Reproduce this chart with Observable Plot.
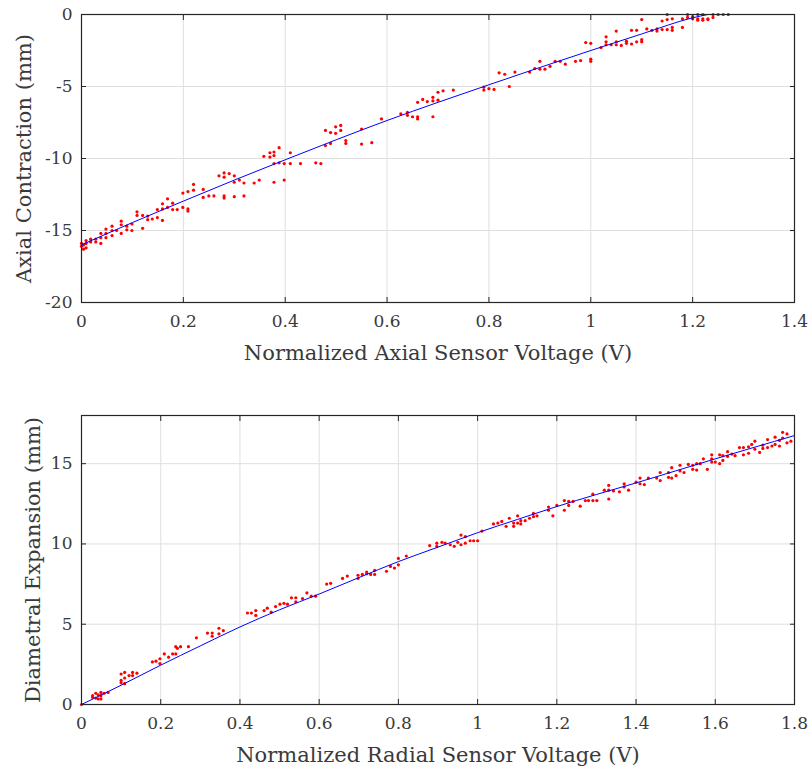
<!DOCTYPE html>
<html><head><meta charset="utf-8">
<script src="https://cdn.jsdelivr.net/npm/d3@7"></script>
<script src="https://cdn.jsdelivr.net/npm/@observablehq/plot@0.6"></script>
<style>body{margin:0;background:#fff} svg{display:block}</style>
</head><body><div id="c"></div><script>
// ---- Axial (top) ----
const axialPoints = [
[0,-15.9],[0,-16.1],[0.004,-16.0],[0.004,-16.3],[0.009,-15.7],[0.009,-15.9],[0.009,-16.2],
[0.018,-15.6],[0.018,-15.8],[0.028,-15.6],[0.028,-15.8],
[0.038,-15.2],[0.038,-15.5],[0.038,-15.9],
[0.048,-14.9],[0.048,-15.2],[0.048,-15.5],
[0.06,-14.7],[0.06,-15.0],[0.06,-15.35],[0.069,-15.0],
[0.078,-14.35],[0.078,-14.6],[0.078,-15.2],
[0.089,-14.7],[0.089,-14.95],[0.099,-14.55],[0.099,-15.0],
[0.109,-13.7],[0.109,-13.95],[0.12,-13.95],[0.12,-14.85],
[0.13,-14.0],[0.13,-14.25],[0.139,-14.2],
[0.149,-13.55],[0.149,-14.1],
[0.159,-13.15],[0.159,-13.5],[0.159,-14.3],
[0.169,-12.8],[0.169,-13.4],[0.179,-13.1],[0.179,-13.55],[0.188,-13.55],
[0.199,-12.4],[0.199,-13.4],[0.209,-12.3],[0.209,-13.5],[0.209,-13.65],
[0.22,-11.8],[0.22,-12.2],[0.239,-12.15],[0.239,-12.7],
[0.25,-12.6],[0.26,-12.6],[0.27,-11.2],
[0.28,-11.0],[0.28,-11.3],[0.28,-12.6],[0.28,-12.75],[0.29,-11.05],
[0.3,-11.2],[0.3,-11.65],[0.3,-12.65],[0.31,-11.5],
[0.319,-11.7],[0.319,-12.6],[0.339,-11.7],[0.349,-11.5],
[0.358,-9.85],[0.37,-9.6],[0.37,-9.9],
[0.378,-9.55],[0.378,-9.8],[0.378,-10.35],[0.378,-11.65],
[0.388,-9.25],[0.388,-10.3],[0.398,-10.35],[0.398,-11.5],
[0.41,-9.6],[0.41,-10.35],[0.43,-10.35],[0.46,-10.3],[0.47,-10.35],
[0.479,-8.05],[0.479,-9.1],[0.489,-8.2],[0.489,-8.95],
[0.499,-7.8],[0.499,-8.25],[0.509,-7.7],[0.509,-8.05],
[0.519,-8.75],[0.519,-8.95],[0.55,-7.95],[0.55,-9.0],
[0.57,-8.9],[0.589,-7.25],
[0.627,-6.9],[0.64,-6.8],[0.64,-7.0],[0.65,-7.1],
[0.66,-6.1],[0.66,-7.1],[0.66,-7.25],[0.67,-5.9],[0.679,-6.05],
[0.69,-5.75],[0.69,-6.0],[0.69,-7.1],[0.7,-5.4],[0.7,-5.95],
[0.71,-5.3],[0.73,-5.25],
[0.79,-5.05],[0.79,-5.25],[0.8,-5.15],[0.81,-5.2],
[0.82,-4.05],[0.831,-4.15],[0.84,-5.0],[0.851,-4.0],
[0.88,-4.0],[0.89,-3.75],[0.9,-3.25],[0.9,-3.8],[0.91,-3.8],[0.92,-3.6],
[0.93,-3.25],[0.94,-3.25],[0.95,-3.45],[0.97,-3.25],[0.98,-3.2],
[0.99,-1.95],[1.0,-2.0],[1.0,-3.1],[1.0,-3.25],
[1.02,-2.3],[1.03,-1.55],[1.03,-1.9],[1.03,-2.1],[1.04,-2.1],
[1.05,-1.15],[1.05,-1.9],[1.05,-2.1],[1.06,-2.15],[1.07,-1.85],[1.07,-2.0],
[1.08,-1.1],[1.08,-2.05],[1.09,-1.1],[1.09,-1.9],
[1.1,-0.35],[1.1,-1.75],[1.1,-1.9],[1.11,-1.0],[1.12,-1.1],[1.13,-1.0],[1.13,-1.15],
[1.14,-0.45],[1.14,-1.05],[1.15,0],[1.15,-0.35],[1.15,-1.05],
[1.16,-0.3],[1.16,-0.9],[1.16,-1.1],[1.18,-0.3],[1.18,-0.9],
[1.19,0],[1.19,-0.2],[1.2,-0.15],[1.2,-0.3],
[1.21,0],[1.21,-0.3],[1.21,-0.4],[1.22,0],[1.22,-0.3],[1.22,-0.4],
[1.23,-0.3],[1.23,-0.35],[1.24,0],[1.24,-0.2],[1.25,0],[1.26,0],[1.27,0]
];
const axialFit = [
[0,-16],[0.1,-14.45],[0.2,-12.96],[0.3,-11.5],[0.4,-10.09],[0.5,-8.7],[0.6,-7.36],
[0.7,-6.1],[0.8,-4.88],[0.9,-3.68],[1.0,-2.5],[1.1,-1.35],[1.2,-0.23],[1.23,0]
];
const axialXTicks = [0, 0.2, 0.4, 0.6, 0.8, 1, 1.2, 1.4];
const axialYTicks = [-20, -15, -10, -5, 0];

// ---- Radial (bottom) ----
const radialPoints = [
[0,0],[0.028,0.55],[0.028,0.45],[0.036,0.7],[0.036,0.4],[0.042,0.6],[0.042,0.35],
[0.049,0.75],[0.049,0.55],[0.049,0.35],[0.057,0.7],[0.067,0.75],
[0.1,1.9],[0.1,1.5],[0.1,1.35],[0.109,2.0],[0.109,1.65],[0.109,1.3],
[0.12,1.8],[0.129,2.0],[0.129,1.8],[0.14,1.95],
[0.179,2.65],[0.188,2.7],[0.198,2.85],[0.198,2.55],[0.209,3.15],[0.22,2.95],
[0.23,3.15],[0.238,3.6],[0.238,3.15],[0.242,3.5],[0.25,3.6],[0.27,3.6],
[0.29,4.15],[0.318,4.45],[0.33,4.45],[0.33,4.25],[0.347,4.75],[0.347,4.4],[0.358,4.6],
[0.419,5.7],[0.429,5.7],[0.44,5.85],[0.44,5.55],[0.461,5.85],[0.469,6.0],[0.479,5.75],
[0.49,6.1],[0.501,6.25],[0.511,6.3],[0.52,6.25],[0.53,6.65],[0.541,6.65],[0.541,6.4],
[0.558,6.6],[0.569,6.95],[0.58,6.75],[0.591,6.75],[0.619,7.5],[0.629,7.55],
[0.659,7.85],[0.671,8.0],[0.698,8.05],[0.698,7.85],[0.709,8.1],[0.72,8.25],[0.72,8.15],
[0.73,8.1],[0.74,8.35],[0.74,8.1],[0.77,8.3],[0.78,8.6],[0.79,8.5],
[0.8,9.1],[0.8,8.7],[0.82,9.25],
[0.879,9.9],[0.897,10.05],[0.897,9.85],[0.91,10.1],[0.918,10.05],[0.931,9.95],
[0.941,9.85],[0.95,10.1],[0.958,10.55],[0.958,9.95],[0.969,10.45],[0.969,10.05],
[0.981,10.2],[0.99,10.2],[1.0,10.2],[1.011,10.8],
[1.04,11.25],[1.051,11.3],[1.061,11.4],[1.072,11.1],[1.08,11.6],[1.091,11.3],[1.091,11.1],
[1.101,11.75],[1.101,11.3],[1.109,11.45],[1.109,11.25],[1.12,11.45],[1.131,11.6],
[1.141,11.9],[1.141,11.7],[1.15,11.75],[1.179,12.3],[1.179,12.1],[1.19,11.75],[1.2,12.4],
[1.219,12.7],[1.219,12.1],[1.23,12.65],[1.23,12.4],[1.241,12.65],[1.259,12.35],
[1.272,12.7],[1.28,12.7],[1.291,13.1],[1.291,12.7],[1.301,12.7],
[1.32,13.35],[1.331,13.65],[1.331,13.35],[1.331,12.8],[1.343,13.3],[1.358,13.25],
[1.37,13.75],[1.37,13.55],[1.381,13.35],[1.4,13.85],[1.41,14.1],[1.41,13.75],
[1.421,13.7],[1.431,14.1],[1.452,14.1],[1.461,14.45],[1.461,13.95],
[1.482,14.45],[1.482,14.15],[1.49,14.75],[1.49,14.1],[1.501,14.25],
[1.511,14.9],[1.511,14.55],[1.521,14.45],[1.532,14.95],[1.543,14.9],[1.543,14.65],
[1.553,15.0],[1.553,14.6],[1.562,15.0],[1.57,15.3],[1.58,14.65],
[1.591,15.55],[1.591,15.3],[1.591,15.1],[1.6,15.1],[1.611,15.55],[1.611,15.0],
[1.619,15.5],[1.619,15.2],[1.631,15.75],[1.631,15.45],[1.642,15.6],[1.65,15.5],
[1.661,16.0],[1.671,16.0],[1.671,15.55],[1.684,16.05],[1.684,15.65],[1.692,16.2],
[1.7,16.4],[1.7,15.9],[1.712,15.7],[1.72,16.15],[1.72,15.95],[1.732,16.5],[1.732,16.0],
[1.743,16.1],[1.751,16.65],[1.751,16.2],[1.762,16.45],[1.762,16.1],
[1.77,16.95],[1.77,16.6],[1.781,16.85],[1.781,16.3],[1.791,16.4]
];
const radialFit = [
[0,0],[0.1,1.2],[0.2,2.45],[0.3,3.65],[0.4,4.83],[0.5,5.9],[0.6,6.88],[0.7,7.9],
[0.8,8.9],[0.9,9.8],[1.0,10.7],[1.1,11.52],[1.2,12.33],[1.3,13.08],[1.4,13.8],
[1.5,14.55],[1.6,15.3],[1.7,16.03],[1.8,16.75]
];
const radialXTicks = [0, 0.2, 0.4, 0.6, 0.8, 1, 1.2, 1.4, 1.6, 1.8];
const radialYTicks = [0, 5, 10, 15];

const ink = "#262626";
const textInk = "#3a3a3a";
const gridColor = "#dfdfdf";

function panel(o) {
  const fmt = d => String(d);
  return Plot.plot({
    width: 810, height: o.height,
    marginLeft: 81, marginRight: 16, marginTop: o.mt, marginBottom: o.mb,
    style: {fontFamily: "'DejaVu Serif', serif", fontSize: "17px", color: textInk, background: "#fff"},
    x: {domain: o.xDomain},
    y: {domain: o.yDomain},
    marks: [
      Plot.gridX(o.xTicks, {stroke: gridColor, strokeOpacity: 1}),
      Plot.gridY(o.yTicks, {stroke: gridColor, strokeOpacity: 1}),
      Plot.dot(o.points, {x: d => d[0], y: d => d[1], r: 1.6, fill: "#ff0000", stroke: "none"}),
      Plot.line(o.fit, {x: d => d[0], y: d => d[1], stroke: "#0000ff", strokeWidth: 1, curve: "monotone-x"}),
      Plot.frame({stroke: ink, strokeWidth: 1.2}),
      Plot.axisX(o.xTicks, {anchor: "bottom", tickSize: -5, tickPadding: 17, tickFormat: fmt, label: null, stroke: ink, fill: textInk, fontSize: 17}),
      Plot.axisX(o.xTicks, {anchor: "top", tickSize: -5, tickFormat: () => "", label: null, stroke: ink}),
      Plot.axisY(o.yTicks, {anchor: "left", tickSize: -5, tickPadding: 14, tickFormat: fmt, label: null, stroke: ink, fill: textInk, fontSize: 17}),
      Plot.axisY(o.yTicks, {anchor: "right", tickSize: -5, tickFormat: () => "", label: null, stroke: ink}),
      Plot.text([o.xLabel], {frameAnchor: "bottom", dy: 51, text: d => d, fontSize: 21, fill: textInk, textAnchor: "middle", lineAnchor: "middle"}),
      Plot.text([o.yLabel], {frameAnchor: "left", dx: o.yLabelDx, rotate: -90, text: d => d, fontSize: 21, fill: textInk, textAnchor: "middle", lineAnchor: "middle"})
    ]
  });
}

const c = document.getElementById("c");
c.appendChild(panel({
  height: 386, mt: 14, mb: 84,
  xDomain: [0, 1.4], yDomain: [-20, 0],
  xTicks: axialXTicks, yTicks: axialYTicks,
  points: axialPoints, fit: axialFit,
  xLabel: "Normalized Axial Sensor Voltage (V)",
  yLabel: "Axial Contraction (mm)", yLabelDx: -57
}));
c.appendChild(panel({
  height: 387, mt: 29, mb: 69,
  xDomain: [0, 1.8], yDomain: [0, 18],
  xTicks: radialXTicks, yTicks: radialYTicks,
  points: radialPoints, fit: radialFit,
  xLabel: "Normalized Radial Sensor Voltage (V)",
  yLabel: "Diametral Expansion (mm)", yLabelDx: -48
}));
</script></body></html>
